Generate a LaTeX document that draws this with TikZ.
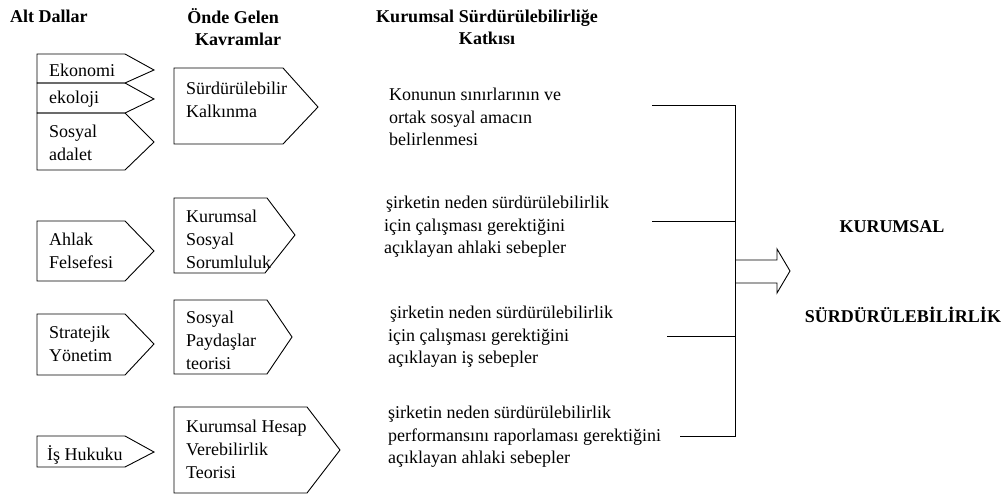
\documentclass[tikz,border=0pt]{standalone}
\usepackage{fontspec}
\setmainfont{Liberation Serif}
\begin{document}
\begin{tikzpicture}[x=1pt,y=-1pt,
  lbl/.style={anchor=west,inner sep=0pt,align=left,font=\fontsize{18}{23}\selectfont},
  hdr/.style={inner sep=0pt,align=center,font=\fontsize{18}{22}\selectfont\bfseries},
  shp/.style={draw,line width=0.9pt,line join=miter},
  con/.style={draw,line width=0.9pt}]
\useasboundingbox (0,0) rectangle (1007,500);
% headers
\node[hdr,anchor=west] (h1) at (10,16) {Alt Dallar};
\node[hdr] (h2) at (233,27) {Önde Gelen\\\hspace*{10pt}Kavramlar};
\node[hdr] (h3) at (487,27) {Kurumsal Sürdürülebilirliğe\\Katkısı};
% left column shapes
\draw[shp] (37,54) -- (125,54) -- (154,70) -- (125,83) -- (37,83) -- cycle;
\draw[shp] (37,83) -- (125,83) -- (154,99) -- (125,113) -- (37,113) -- cycle;
\draw[shp] (37,113) -- (125,113) -- (154,142) -- (125,170) -- (37,170) -- cycle;
\draw[shp] (37,221) -- (125,221) -- (154,251) -- (125,281) -- (37,281) -- cycle;
\draw[shp] (37,314) -- (125,314) -- (154,344) -- (125,375) -- (37,375) -- cycle;
\draw[shp] (37,436) -- (125,436) -- (154,452) -- (125,467) -- (37,467) -- cycle;
% second column shapes
\draw[shp] (174,68) -- (283,68) -- (318,107) -- (283,144) -- (174,144) -- cycle;
\draw[shp] (174,198) -- (267,198) -- (295,235) -- (265,273) -- (174,273) -- cycle;
\draw[shp] (174,300) -- (267,300) -- (292,337) -- (267,374) -- (174,374) -- cycle;
\draw[shp] (174,407) -- (307,407) -- (340,450) -- (307,493) -- (174,493) -- cycle;
% left texts
\node[lbl] (ekonomi) at (49,70) {Ekonomi};
\node[lbl] (ekoloji) at (49,99) {ekoloji};
\node[lbl] (sosyal) at (49,143) {Sosyal\\adalet};
\node[lbl] (ahlak) at (49,251) {Ahlak\\Felsefesi};
\node[lbl] (strat) at (49,344) {Stratejik\\Yönetim};
\node[lbl] (hukuk) at (47,455) {İş Hukuku};
% second column texts
\node[lbl] (sk) at (186,100) {Sürdürülebilir\\Kalkınma};
\node[lbl] (kss) at (186,239) {Kurumsal\\Sosyal\\Sorumluluk};
\node[lbl] (spt) at (186,340) {Sosyal\\Paydaşlar\\teorisi};
\node[lbl] (khv) at (186,449) {Kurumsal Hesap\\Verebilirlik\\Teorisi};
% middle texts
\node[lbl,font=\fontsize{18}{22.5}\selectfont] (m1) at (389,117) {Konunun sınırlarının ve\\ortak sosyal amacın\\belirlenmesi};
\node[lbl,font=\fontsize{18}{22.5}\selectfont] (m2) at (384,227) {\hspace*{2pt}şirketin neden sürdürülebilirlik\\için çalışması gerektiğini\\açıklayan ahlaki sebepler};
\node[lbl,font=\fontsize{18}{22.5}\selectfont] (m3) at (388,337) {\hspace*{2pt}şirketin neden sürdürülebilirlik\\için çalışması gerektiğini\\açıklayan iş sebepler};
\node[lbl,font=\fontsize{18}{22.5}\selectfont] (m4) at (388,437) {şirketin neden sürdürülebilirlik\\performansını raporlaması gerektiğini\\açıklayan ahlaki sebepler};
% bracket
\coordinate (s1) at (652,105);
\coordinate (s2) at (652,221);
\coordinate (s3) at (667,336);
\coordinate (s4) at (680,436);
\coordinate (e1) at (735,105);
\coordinate (e2) at (735,221);
\coordinate (e3) at (735,336);
\coordinate (e4) at (735,436);
\draw[con] (s1) -- (e1) -- (e4) -- (s4);
\draw[con] (s2) -- (e2);
\draw[con] (s3) -- (e3);
% block arrow
\draw[shp] (735,260) -- (777,260) -- (777,249) -- (790,271) -- (777,293) -- (777,283) -- (735,283);
% right texts
\node[hdr] (kur) at (892,227) {KURUMSAL};
\node[hdr] (sur) at (903,315) {SÜRDÜRÜLEBİLİRLİK};
\end{tikzpicture}
\end{document}
